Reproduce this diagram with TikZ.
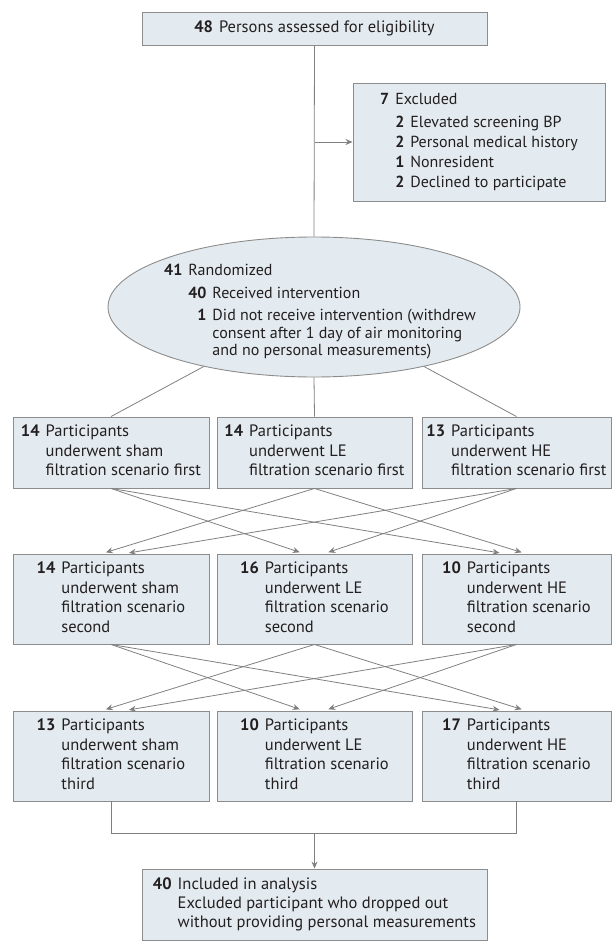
\documentclass[tikz,border=0pt]{standalone}
\usepackage{fontspec}
\setmainfont{PT Sans}
\usetikzlibrary{shapes.geometric,arrows.meta}
\definecolor{boxfill}{RGB}{228,235,240}
\definecolor{boxline}{RGB}{140,140,140}
\definecolor{flowline}{RGB}{128,128,128}
\definecolor{flowtext}{RGB}{35,31,32}
\newcommand{\flowcount}[2]{\begin{tabular}{@{}r@{\hspace{6pt}}l@{}}\textbf{#1} & #2\end{tabular}}
\tikzset{
  flowbox/.style={draw=boxline,fill=boxfill,line width=0.9pt,inner sep=0pt,text=flowtext,font=\fontsize{16.5}{19.5}\selectfont},
  flowlink/.style={draw=flowline,line width=0.8pt},
  flowarrow/.style={flowlink,-{Stealth[length=7pt,width=6pt]}},
  crossarrow/.style={flowarrow,shorten >=4pt}
}
\begin{document}
\begin{tikzpicture}[x=1pt,y=-1pt]
\useasboundingbox (0,0) rectangle (612,941);
\node[flowbox,minimum width=345pt,minimum height=33pt] (assess) at (314.5,28.5) {\textbf{48}\hspace{6pt}Persons assessed for eligibility};
\node[flowbox,minimum width=252pt,minimum height=118pt,font=\fontsize{16}{20}\selectfont] (excl) at (479,142) {\begin{tabular}{@{}r@{\hspace{6pt}}r@{\hspace{6pt}}l@{}}
\textbf{7} & \multicolumn{2}{@{}l@{}}{Excluded}\\[3pt]
& \textbf{2} & Elevated screening BP\\
& \textbf{2} & Personal medical history\\
& \textbf{1} & Nonresident\\
& \textbf{2} & Declined to participate
\end{tabular}};
\node[flowbox,ellipse,minimum width=412pt,minimum height=140pt] (rand) at (314,307) {};
\node[text=flowtext,inner sep=0pt,font=\fontsize{16}{17.5}\selectfont] (randtext) at (320,312) {\begin{tabular}{@{}r@{\hspace{6pt}}r@{\hspace{6pt}}l@{}}
\textbf{41} & \multicolumn{2}{@{}l@{}}{Randomized}\\[5pt]
& \textbf{40} & Received intervention\\[5pt]
& \textbf{1} & Did not receive intervention (withdrew\\
& & consent after 1 day of air monitoring\\
& & and no personal measurements)
\end{tabular}};

\node[flowbox,minimum width=196pt,minimum height=71pt] (first1) at (111,452.5) {\flowcount{14}{Participants\\ & underwent sham\\ & filtration scenario first}};
\node[flowbox,minimum width=195pt,minimum height=71pt] (first2) at (314.5,452.5) {\flowcount{14}{Participants\\ & underwent LE\\ & filtration scenario first}};
\node[flowbox,minimum width=189pt,minimum height=71pt] (first3) at (516.5,452.5) {\flowcount{13}{Participants\\ & underwent HE\\ & filtration scenario first}};

\node[flowbox,minimum width=196pt,minimum height=90pt] (second1) at (111,599) {\flowcount{14}{Participants\\ & underwent sham\\ & filtration scenario\\ & second}};
\node[flowbox,minimum width=195pt,minimum height=90pt] (second2) at (314.5,599) {\flowcount{16}{Participants\\ & underwent LE\\ & filtration scenario\\ & second}};
\node[flowbox,minimum width=189pt,minimum height=90pt] (second3) at (516.5,599) {\flowcount{10}{Participants\\ & underwent HE\\ & filtration scenario\\ & second}};

\node[flowbox,minimum width=196pt,minimum height=90pt] (third1) at (111,756) {\flowcount{13}{Participants\\ & underwent sham\\ & filtration scenario\\ & third}};
\node[flowbox,minimum width=195pt,minimum height=90pt] (third2) at (314.5,756) {\flowcount{10}{Participants\\ & underwent LE\\ & filtration scenario\\ & third}};
\node[flowbox,minimum width=189pt,minimum height=90pt] (third3) at (516.5,756) {\flowcount{17}{Participants\\ & underwent HE\\ & filtration scenario\\ & third}};

\node[flowbox,minimum width=345pt,minimum height=71pt,font=\fontsize{16.5}{19}\selectfont] (analysis) at (314.5,904.5) {\flowcount{40}{Included in analysis\\ & Excluded participant who dropped out\\ & without providing personal measurements}};

\coordinate (exclbranch) at (assess.south |- excl.west);
\coordinate (merge) at ([yshift=-32pt]third1.south);

\draw[flowlink] (assess.south) -- (rand.north);
\draw[flowarrow] (exclbranch) -- (excl.west);
\draw[flowlink] (rand) -- (first1.north);
\draw[flowlink] (rand.south) -- (first2.north);
\draw[flowlink] (rand) -- (first3.north);

\draw[crossarrow] (first2.south) -- ([xshift=-9pt]second1.north);
\draw[crossarrow] (first3.south) -- ([xshift=14pt]second1.north);
\draw[crossarrow] (first1.south) -- ([xshift=-11pt]second2.north);
\draw[crossarrow] (first3.south) -- ([xshift=10pt]second2.north);
\draw[crossarrow] (first1.south) -- ([xshift=-13pt]second3.north);
\draw[crossarrow] (first2.south) -- ([xshift=9pt]second3.north);

\draw[crossarrow] (second2.south) -- ([xshift=-9pt]third1.north);
\draw[crossarrow] (second3.south) -- ([xshift=14pt]third1.north);
\draw[crossarrow] (second1.south) -- ([xshift=-11pt]third2.north);
\draw[crossarrow] (second3.south) -- ([xshift=10pt]third2.north);
\draw[crossarrow] (second1.south) -- ([xshift=-13pt]third3.north);
\draw[crossarrow] (second2.south) -- ([xshift=9pt]third3.north);

\draw[flowlink] (third1.south) |- (merge) -| (third3.south);
\draw[flowarrow] (analysis.north |- merge) -- (analysis.north);
\end{tikzpicture}
\end{document}
